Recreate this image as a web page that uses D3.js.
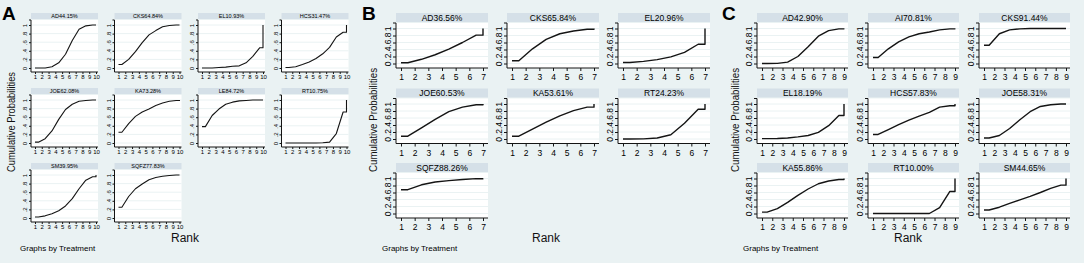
<!DOCTYPE html>
<html>
<head>
<meta charset="utf-8">
<script src="https://cdn.jsdelivr.net/npm/d3@7"></script>
<style>
  body { margin: 0; background: #eaf2f3; }
  svg { display: block; font-family: Arial, "Liberation Sans", sans-serif; }
</style>
</head>
<body>
<svg id="chart" width="1084" height="263"></svg>
<script>
// cumulative ranking probabilities, rank 1..n

const treatmentsA = ["AD", "CKS", "EL", "HCS", "JOE", "KA", "LE", "RT", "SM", "SQFZ"];
const sucraA = ["44.15", "64.84", "10.93", "31.47", "62.08", "73.28", "84.72", "10.75", "39.95", "77.83"];
const cumA = [
  [0, 0, 0.03, 0.12, 0.32, 0.64, 0.9, 0.98, 1, 1],
  [0.08, 0.2, 0.38, 0.59, 0.77, 0.87, 0.96, 0.99, 1, 1],
  [0, 0, 0.01, 0.02, 0.04, 0.05, 0.12, 0.27, 0.47, 1],
  [0.01, 0.03, 0.08, 0.14, 0.22, 0.33, 0.48, 0.72, 0.83, 1],
  [0.02, 0.1, 0.28, 0.55, 0.78, 0.9, 0.97, 0.99, 1, 1],
  [0.25, 0.45, 0.62, 0.72, 0.79, 0.87, 0.93, 0.97, 0.99, 1],
  [0.38, 0.64, 0.79, 0.9, 0.95, 0.98, 0.99, 1, 1, 1],
  [0, 0, 0, 0, 0, 0.005, 0.02, 0.22, 0.72, 1],
  [0.025, 0.05, 0.1, 0.17, 0.28, 0.45, 0.68, 0.88, 0.96, 1],
  [0.25, 0.5, 0.68, 0.79, 0.89, 0.94, 0.97, 0.99, 1, 1]
];

const treatmentsB = ["AD", "CKS", "EL", "JOE", "KA", "RT", "SQFZ"];
const sucraB = ["36.56", "65.84", "20.96", "60.53", "53.61", "24.23", "88.26"];
const cumB = [
  [0.02, 0.12, 0.25, 0.41, 0.6, 0.81, 1],
  [0.08, 0.42, 0.69, 0.85, 0.93, 0.98, 1],
  [0.03, 0.06, 0.11, 0.19, 0.32, 0.55, 1],
  [0.08, 0.32, 0.56, 0.78, 0.91, 0.98, 1],
  [0.08, 0.28, 0.48, 0.66, 0.81, 0.91, 1],
  [0, 0.005, 0.03, 0.12, 0.45, 0.85, 1],
  [0.68, 0.82, 0.9, 0.94, 0.97, 0.995, 1]
];

const treatmentsC = ["AD", "AI", "CKS", "EL", "HCS", "JOE", "KA", "RT", "SM"];
const sucraC = ["42.90", "70.81", "91.44", "18.19", "57.83", "58.31", "55.86", "10.00", "44.65"];
const cumC = [
  [0, 0.005, 0.04, 0.2, 0.48, 0.78, 0.94, 0.99, 1],
  [0.17, 0.42, 0.62, 0.76, 0.85, 0.9, 0.96, 0.99, 1],
  [0.52, 0.85, 0.96, 0.99, 1, 1, 1, 1, 1],
  [0.01, 0.015, 0.03, 0.06, 0.1, 0.19, 0.38, 0.67, 1],
  [0.13, 0.27, 0.41, 0.54, 0.655, 0.76, 0.91, 0.95, 1],
  [0.03, 0.1, 0.3, 0.55, 0.78, 0.93, 0.98, 1, 1],
  [0.04, 0.14, 0.32, 0.52, 0.7, 0.85, 0.93, 0.97, 1],
  [0, 0, 0, 0, 0, 0, 0.17, 0.63, 1],
  [0.1, 0.18, 0.29, 0.39, 0.49, 0.6, 0.72, 0.81, 1]
];

const yTicks = [0, 0.2, 0.4, 0.6, 0.8, 1];
const yTickLabels = ["0", ".2", ".4", ".6", ".8", "1"];

const bg = "#eaf2f3",
      strip = "#d5e0e8",
      grid = "#eaf2f3",
      ink = "#141414";

var svg = d3.select("#chart");

svg.append("rect")
    .attr("width", 1084)
    .attr("height", 263)
    .attr("fill", bg);

// turn cumulative probs into the stepped stata line
function rankPoints(c) {
  var n = c.length, pts = [[1, c[0]], [1.5, c[0]]];
  for (var k = 2; k < n; k++) pts.push([k + 0.5, c[k - 1]]);
  pts.push([n, c[n - 2]]);
  pts.push([n, c[n - 1]]);
  return pts;
}

function drawPanel(p) {
  var g = svg.append("g");
  var n = p.cum[0].length,
      ranks = d3.range(1, n + 1);

  g.append("text")
      .attr("x", p.letterX)
      .attr("y", 20)
      .attr("font-size", 19)
      .attr("font-weight", "bold")
      .attr("fill", "#000")
      .text(p.letter);

  p.names.forEach((name, i) => {
    var col = i % p.cols,
        row = Math.floor(i / p.cols),
        x0 = p.ox + col * p.colStep,
        y0 = p.rows[row];

    var x = d3.scaleLinear().domain([1, n]).range([x0 + p.xPad[0], x0 + p.xPad[1]]);
    var y = d3.scaleLinear().domain([0, 1]).range([y0 + p.yAt0, y0 + p.yAt1]);

    var cell = g.append("g");

    cell.append("rect")
        .attr("x", x0)
        .attr("y", y0)
        .attr("width", p.w)
        .attr("height", p.headH)
        .attr("fill", strip);

    cell.append("text")
        .attr("x", x0 + p.w / 2)
        .attr("y", y0 + p.headH / 2)
        .attr("dy", "0.36em")
        .attr("text-anchor", "middle")
        .attr("font-size", p.headFont)
        .attr("fill", "#000")
        .text(name + p.sucra[i] + "%");

    cell.append("rect")
        .attr("x", x0)
        .attr("y", y0 + p.headH + 1)
        .attr("width", p.w)
        .attr("height", p.axisY - p.headH - 1)
        .attr("fill", "#fff");

    cell.selectAll(".grid")
        .data(yTicks)
      .enter().append("line")
        .attr("x1", x0)
        .attr("x2", x0 + p.w)
        .attr("y1", d => y(d))
        .attr("y2", d => y(d))
        .attr("stroke", grid)
        .attr("stroke-width", 1);

    var yAxis = d3.axisLeft(y)
        .tickValues(yTicks)
        .tickSize(p.tick)
        .tickFormat((d, j) => yTickLabels[j]);

    var ya = cell.append("g")
        .attr("transform", `translate(${x0},0)`)
        .call(yAxis);
    ya.select(".domain")
        .attr("d", `M-${p.tick},${y0 + p.headH + 1}H0V${y0 + p.axisY}`)
        .attr("stroke", ink);
    ya.selectAll("text")
        .attr("font-size", p.tickFont)
        .attr("font-family", null)
        .attr("fill", "#000")
        .attr("text-anchor", "middle")
        .attr("dy", null)
        .attr("x", null)
        .attr("transform", d => `translate(${-p.tick - p.tickFont * 0.6},0) rotate(-90)`)
        .attr("dominant-baseline", "central");

    var xAxis = d3.axisBottom(x)
        .tickValues(ranks)
        .tickSize(p.tick)
        .tickFormat(d3.format("d"));

    var xa = cell.append("g")
        .attr("transform", `translate(0,${y0 + p.axisY})`)
        .call(xAxis);
    xa.select(".domain")
        .attr("d", `M${x0},0H${x0 + p.w}`)
        .attr("stroke", ink);
    xa.selectAll("text")
        .attr("font-size", p.tickFont)
        .attr("font-family", null)
        .attr("fill", "#000")
        .attr("y", p.tick + p.xLabGap);
    xa.selectAll(".tick line").attr("stroke", ink);
    ya.selectAll(".tick line").attr("stroke", ink);

    var line = d3.line()
        .x(d => x(d[0]))
        .y(d => y(d[1]));

    cell.append("path")
        .datum(rankPoints(p.cum[i]))
        .attr("d", line)
        .attr("fill", "none")
        .attr("stroke", ink)
        .attr("stroke-width", p.lw)
        .attr("stroke-linejoin", "round");
  });

  g.append("text")
      .attr("transform", `translate(${p.yTitleX},${p.yTitleY}) rotate(-90)`)
      .attr("text-anchor", "middle")
      .attr("font-size", p.yTitleFont)
      .attr("textLength", p.yTitleLen)
      .attr("lengthAdjust", "spacingAndGlyphs")
      .attr("fill", "#111")
      .text("Cumulative Probabilities");

  g.append("text")
      .attr("x", p.rankX)
      .attr("y", 242)
      .attr("text-anchor", "middle")
      .attr("font-size", 12)
      .attr("fill", "#111")
      .text("Rank");

  g.append("text")
      .attr("x", p.noteX)
      .attr("y", 250.5)
      .attr("font-size", 8)
      .attr("fill", "#000")
      .text("Graphs by Treatment");
}

drawPanel({
  letter: "A", letterX: 2,
  names: treatmentsA, sucra: sucraA, cum: cumA,
  cols: 4, ox: 31, colStep: 83.5, w: 67, rows: [13, 88, 163],
  headH: 6, axisY: 59, yAt0: 55, yAt1: 12, xPad: [4, 65],
  tick: 2, xLabGap: 1, tickFont: 6, headFont: 5.5, lw: 1.1,
  yTitleX: 15, yTitleY: 122, yTitleFont: 10.5, yTitleLen: 100,
  rankX: 185, noteX: 20
});

drawPanel({
  letter: "B", letterX: 362,
  names: treatmentsB, sucra: sucraB, cum: cumB,
  cols: 3, ox: 396, colStep: 111, w: 92, rows: [13, 88.5, 163],
  headH: 9, axisY: 55, yAt0: 50.5, yAt1: 15.5, xPad: [5, 87],
  tick: 3, xLabGap: 3, tickFont: 8.5, headFont: 8.5, lw: 1.4,
  yTitleX: 377, yTitleY: 120, yTitleFont: 11, yTitleLen: 104,
  rankX: 546, noteX: 382
});

drawPanel({
  letter: "C", letterX: 722,
  names: treatmentsC, sucra: sucraC, cum: cumC,
  cols: 3, ox: 757, colStep: 111, w: 91, rows: [13, 88.5, 163],
  headH: 9, axisY: 55, yAt0: 50.5, yAt1: 15.5, xPad: [5, 87],
  tick: 3, xLabGap: 3, tickFont: 8.5, headFont: 8.5, lw: 1.4,
  yTitleX: 739, yTitleY: 120, yTitleFont: 11, yTitleLen: 104,
  rankX: 908, noteX: 743
});
</script>
</body>
</html>
